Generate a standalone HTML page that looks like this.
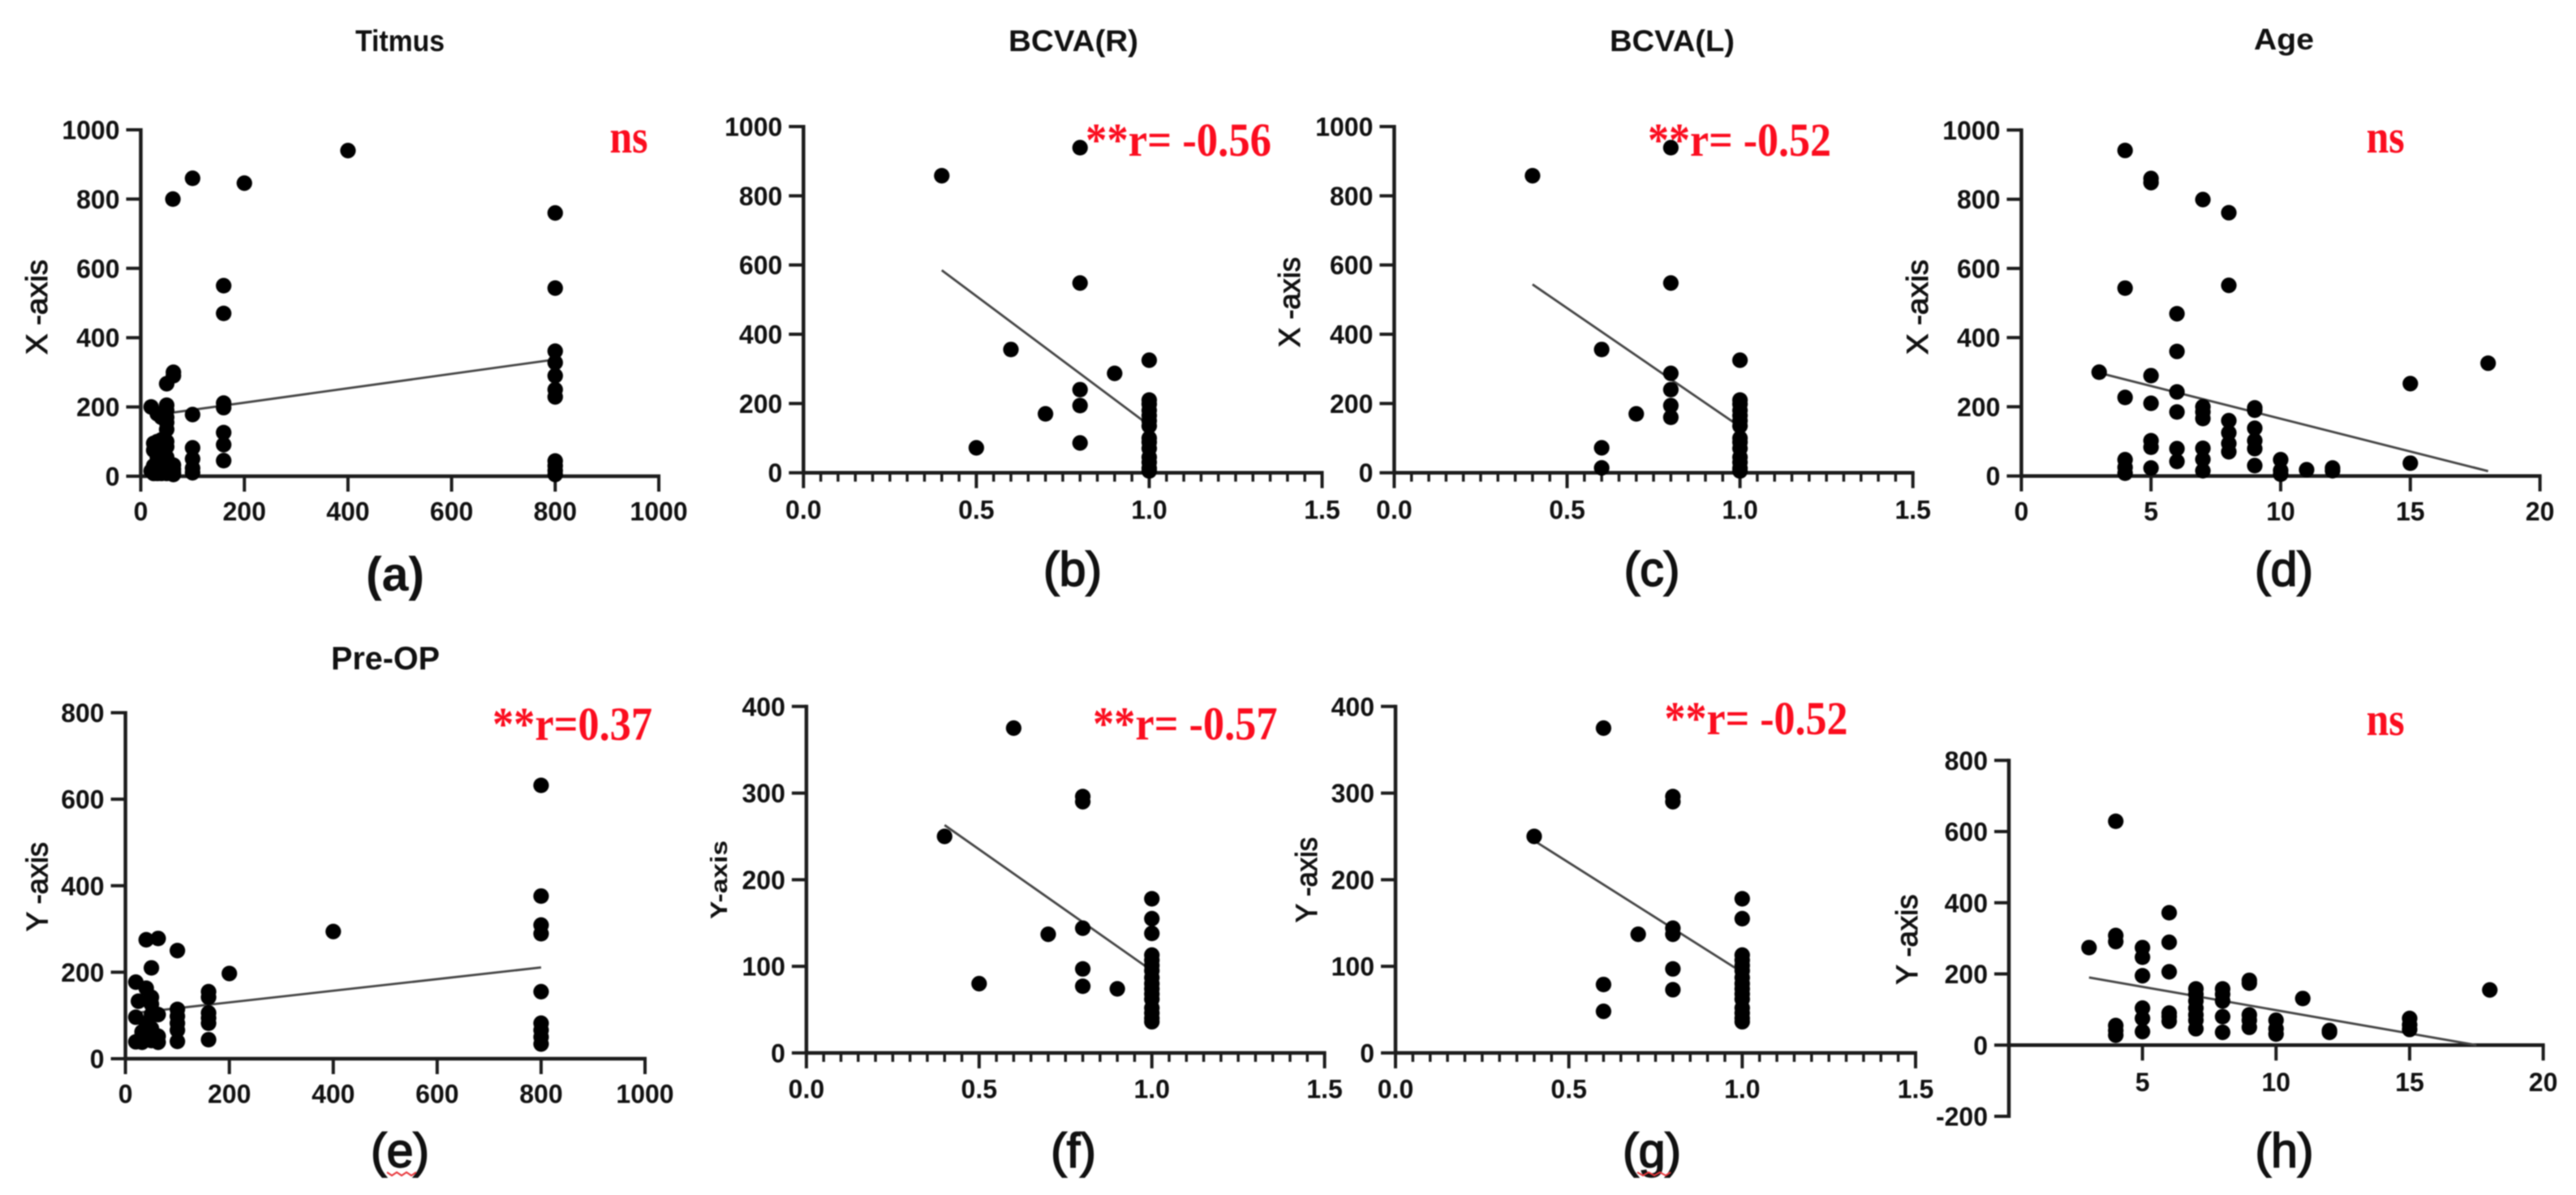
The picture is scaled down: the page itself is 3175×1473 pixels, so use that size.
<!DOCTYPE html>
<html lang="en">
<head>
<meta charset="utf-8">
<title>Correlation scatter panels</title>
<style>
html,body{margin:0;padding:0;background:#fff;width:3175px;height:1473px;overflow:hidden}
svg{display:block;filter:blur(0.9px)}
text{font-family:"Liberation Sans",Arial,sans-serif;fill:#111}
.tick{font-size:32px;font-weight:700}
.title{font-size:37px;font-weight:700}
.axt{font-size:37px;font-weight:400;stroke:#111;stroke-width:1px}
.cap{font-size:59px;font-weight:400;stroke:#111;stroke-width:1.7px}
.sig{font-family:"Liberation Serif","Times New Roman",serif;font-size:58px;font-weight:700;fill:#fb0d1f}
</style>
</head>
<body>
<svg id="fig" xmlns="http://www.w3.org/2000/svg" width="3175" height="1473" viewBox="0 0 3175 1473">
  <rect width="3175" height="1473" fill="#fff"/>

  <text class="title" x="438" y="63" textLength="110" lengthAdjust="spacingAndGlyphs">Titmus</text>
  <text class="title" x="1243" y="63" textLength="160" lengthAdjust="spacingAndGlyphs">BCVA(R)</text>
  <text class="title" x="1984" y="63" textLength="154" lengthAdjust="spacingAndGlyphs">BCVA(L)</text>
  <text class="title" x="2778" y="61" textLength="74" lengthAdjust="spacingAndGlyphs">Age</text>
  <text class="title" x="408" y="825" textLength="134" lengthAdjust="spacingAndGlyphs" style="font-size:40px">Pre-OP</text>

  <text class="sig" x="751.5" y="188" textLength="47" lengthAdjust="spacingAndGlyphs">ns</text>
  <text class="sig" x="1338" y="192" textLength="229" lengthAdjust="spacingAndGlyphs">**r= -0.56</text>
  <text class="sig" x="2031" y="192" textLength="226" lengthAdjust="spacingAndGlyphs">**r= -0.52</text>
  <text class="sig" x="2916.6" y="188" textLength="47" lengthAdjust="spacingAndGlyphs">ns</text>
  <text class="sig" x="607" y="912" textLength="197" lengthAdjust="spacingAndGlyphs">**r=0.37</text>
  <text class="sig" x="1347" y="911.5" textLength="227.5" lengthAdjust="spacingAndGlyphs">**r= -0.57</text>
  <text class="sig" x="2051.5" y="905" textLength="226" lengthAdjust="spacingAndGlyphs">**r= -0.52</text>
  <text class="sig" x="2916.6" y="906" textLength="47" lengthAdjust="spacingAndGlyphs">ns</text>

  <text class="axt" transform="translate(58 378.5) rotate(-90)" text-anchor="middle" textLength="117" lengthAdjust="spacingAndGlyphs">X -axis</text>
  <text class="axt" transform="translate(1602 372.5) rotate(-90)" text-anchor="middle" textLength="111" lengthAdjust="spacingAndGlyphs">X -axis</text>
  <text class="axt" transform="translate(2376 378.5) rotate(-90)" text-anchor="middle" textLength="117" lengthAdjust="spacingAndGlyphs">X -axis</text>
  <text class="axt" transform="translate(58.5 1093) rotate(-90)" text-anchor="middle" textLength="110" lengthAdjust="spacingAndGlyphs">Y -axis</text>
  <text class="axt" transform="translate(896 1084.5) rotate(-90)" text-anchor="middle" textLength="97" lengthAdjust="spacingAndGlyphs" style="font-size:29px;font-weight:700;stroke-width:0">Y-axis</text>
  <text class="axt" transform="translate(1623 1084.5) rotate(-90)" text-anchor="middle" textLength="105" lengthAdjust="spacingAndGlyphs">Y -axis</text>
  <text class="axt" transform="translate(2363 1158) rotate(-90)" text-anchor="middle" textLength="111" lengthAdjust="spacingAndGlyphs">Y -axis</text>

  <text class="cap" x="487" y="728" text-anchor="middle" style="font-weight:700;stroke-width:0">(a)</text>
  <text class="cap" x="1322" y="722" text-anchor="middle">(b)</text>
  <text class="cap" x="2036" y="722" text-anchor="middle">(c)</text>
  <text class="cap" x="2815" y="722" text-anchor="middle">(d)</text>
  <text class="cap" x="493" y="1438.5" text-anchor="middle">(e)</text>
  <text class="cap" x="1323" y="1438.5" text-anchor="middle">(f)</text>
  <text class="cap" x="2036" y="1438.5" text-anchor="middle">(g)</text>
  <text class="cap" x="2815.5" y="1438.5" text-anchor="middle">(h)</text>

  <path d="M477 1445l6 4 6-4 6 4 6-4 6 4 6-4" fill="none" stroke="#e8353a" stroke-width="2"/>
  <path d="M2018 1445l7 4 7-4 7 4 7-4 7 4 6-4" fill="none" stroke="#e8353a" stroke-width="2"/>

  <g id="plots"></g>
</svg>

<script>
// ---- tick labels ----
const titmusXTicks = [0, 200, 400, 600, 800, 1000];
const bcvaXTicks = ['0.0', '0.5', '1.0', '1.5'];
const ageXTicks = [0, 5, 10, 15, 20];
const ageXTicksNoZero = [5, 10, 15, 20];
const xAxisYTicks = [0, 200, 400, 600, 800, 1000];
const preOpYTicks = [0, 200, 400, 600, 800];
const bcvaYTicks = [0, 100, 200, 300, 400];
const ageYTicks = [-200, 0, 200, 400, 600, 800];

// ---- panel (a) Titmus vs X-axis ----
const aX = [62,100,200,400,800,800,160,160,800,800,800,800,800,800,800,800,800,160,160,160,160,160,100,100,100,100,100,63,63,50,20,32,40,50,50,50,50,50,25,32,40,50,25,32,40,50,32,40,50,20,25,32,40,50,63,63,50,40,25,63,50,40,32,63,32];
const aY = [800,860,846,940,760,543,550,470,361,328,290,250,229,44,30,16,5,211,198,126,91,45,178,82,50,23,10,300,290,267,200,180,170,205,190,170,155,135,95,100,105,100,75,75,80,85,55,50,55,15,30,25,20,30,20,5,8,8,8,10,40,35,40,32,8];
const aTrendX = [20, 800];
const aTrendY = [175, 337];

// ---- panel (b) BCVA(R) vs X-axis ----
const bX = [0.4,0.8,0.8,0.6,0.9,1,0.8,0.8,0.7,0.8,0.5,1,1,1,1,1,1,1,1,1,1,1,1,1];
const bY = [858,939,548,356,287,325,240,194,170,86,72,210,198,180,165,150,135,100,88,70,45,30,13,5];
const bTrendX = [0.4, 1.0];
const bTrendY = [585, 137];

// ---- panel (c) BCVA(L) vs X-axis ----
const cX = [0.4,0.8,0.8,0.6,0.6,0.6,0.7,0.8,0.8,0.8,0.8,1,1,1,1,1,1,1,1,1,1,1,1,1,1];
const cY = [858,939,548,356,72,14,170,287,240,194,160,325,210,198,180,165,135,100,88,70,45,30,13,5,150];
const cTrendX = [0.4, 1.0];
const cTrendY = [544, 133];

// ---- panel (d) Age vs X-axis ----
const dX = [4,5,5,7,8,4,8,6,6,3,18,15,5,6,4,5,6,7,7,7,9,9,9,8,8,8,8,9,9,9,5,5,5,6,6,7,7,7,4,4,4,10,10,10,11,12,12,15];
const dY = [941,860,848,799,761,543,551,469,360,300,326,267,290,243,227,210,185,200,185,166,197,190,138,160,125,94,70,102,79,30,102,83,23,79,42,80,48,15,47,25,8,47,16,5,18,23,15,37];
const dTrendX = [3, 18];
const dTrendY = [298, 14];

// ---- panel (e) Titmus vs Y-axis ----
const eX = [800,800,800,800,800,800,800,800,800,400,40,63,100,50,200,20,40,50,50,25,20,63,50,40,50,32,32,20,63,63,40,50,100,100,100,100,100,160,160,160,160,160,160];
const eY = [632,376,309,289,155,82,66,50,34,294,275,278,250,210,197,177,163,142,126,133,96,102,102,82,70,62,38,39,38,52,54,42,114,98,82,66,40,155,142,106,94,82,44];
const eTrendX = [20, 800];
const eTrendY = [106, 211];

// ---- panel (f) BCVA(R) vs Y-axis ----
const fX = [0.6,0.8,0.8,0.4,0.8,0.7,0.8,0.8,0.5,0.9,1,1,1,1,1,1,1,1,1,1,1,1,1,1,1,1];
const fY = [375,296,290,250,144,137,97,77,80,74,178,155,138,113,107,101,95,87,74,68,62,52,46,40,36,80];
const fTrendX = [0.4, 1.0];
const fTrendY = [263, 95];

// ---- panel (g) BCVA(L) vs Y-axis ----
const gX = [0.6,0.8,0.8,0.4,0.6,0.6,0.7,0.8,0.8,0.8,0.8,1,1,1,1,1,1,1,1,1,1,1,1,1,1,1];
const gY = [375,296,290,250,79,48,137,144,137,97,73,178,155,113,107,101,95,87,80,74,68,62,52,46,40,36];
const gTrendX = [0.4, 1.0];
const gTrendY = [245, 93];

// ---- panel (h) Age vs Y-axis ----
const hX = [4,6,6,4,4,3,5,5,5,6,9,9,18,11,7,7,7,7,7,7,7,8,8,8,8,8,5,5,5,6,6,6,4,4,4,9,9,9,10,10,10,12,12,15,15,15];
const hY = [629,372,289,308,291,274,274,247,195,206,174,182,155,131,158,143,124,104,85,70,46,158,143,124,80,36,104,75,38,90,80,67,55,41,28,85,70,50,70,46,31,41,36,75,57,44];
const hTrendX = [3, 17.5];
const hTrendY = [190, 0];

// ---- axis functions ----
function linearScale(d0, d1, p0, p1) {
  return function (v) { return p0 + (Number(v) - d0) * (p1 - p0) / (d1 - d0); };
}

const svgNS = 'http://www.w3.org/2000/svg';
const plotsRoot = document.getElementById('plots');

function segment(parent, name, x1, y1, x2, y2, width, color) {
  const el = document.createElementNS(svgNS, 'line');
  
  
  el.setAttribute('x1', x1);
  el.setAttribute('y1', y1);
  el.setAttribute('x2', x2);
  el.setAttribute('y2', y2);
  el.setAttribute('stroke', color);
  el.setAttribute('stroke-width', width);
  parent.appendChild(el);
}

function tickText(parent, name, x, y, anchor, content) {
  const el = document.createElementNS(svgNS, 'text');
  
  
  el.setAttribute('class', 'tick');
  el.setAttribute('x', x);
  el.setAttribute('y', y);
  el.setAttribute('text-anchor', anchor);
  el.textContent = content;
  parent.appendChild(el);
}

function drawPanel(p) {
  const g = document.createElementNS(svgNS, 'g');
  
  
  plotsRoot.appendChild(g);

  const sx = linearScale(p.xDomain[0], p.xDomain[1], p.xRange[0], p.xRange[1]);
  const sy = linearScale(p.yDomain[0], p.yDomain[1], p.yRange[0], p.yRange[1]);
  const axisColor = '#1c1c1c';
  const xAxisY = sy(0);
  const yAxisX = sx(p.xDomain[0]);
  const tickLen = 18;

  // spines
  segment(g, 'panel-' + p.id + '-y-axis', yAxisX, sy(p.yDomain[1]) - 2, yAxisX, sy(p.yDomain[0]) + (p.yDomain[0] < 0 ? 2 : 0), 4.5, axisColor);
  segment(g, 'panel-' + p.id + '-x-axis', yAxisX, xAxisY, sx(p.xDomain[1]) + 2, xAxisY, 4.5, axisColor);

  // y ticks
  p.yTicks.forEach(function (t) {
    segment(g, 'panel-' + p.id + '-y-tick', yAxisX - tickLen, sy(t), yAxisX, sy(t), 4, axisColor);
    tickText(g, 'panel-' + p.id + '-y-tick-label', yAxisX - 26, sy(t) + 11.5, 'end', String(t));
  });

  // x ticks
  p.xTicks.forEach(function (t) {
    segment(g, 'panel-' + p.id + '-x-tick', sx(t), xAxisY, sx(t), xAxisY + tickLen + 1, 4, axisColor);
    tickText(g, 'panel-' + p.id + '-x-tick-label', sx(t), p.xLabelY + 11.5, 'middle', String(t));
  });

  // minor x ticks
  if (p.minorStep) {
    const n = Math.round((p.xDomain[1] - p.xDomain[0]) / p.minorStep);
    for (let i = 1; i < n; i++) {
      if (i % 10 === 0) continue;
      const v = p.xDomain[0] + i * p.minorStep;
      segment(g, 'panel-' + p.id + '-x-minor-tick', sx(v), xAxisY, sx(v), xAxisY + 11, 3.5, axisColor);
    }
  }

  // trend line
  segment(g, 'panel-' + p.id + '-trend-line', sx(p.trendX[0]), sy(p.trendY[0]), sx(p.trendX[1]), sy(p.trendY[1]), 2.8, '#444');

  // points
  p.xs.forEach(function (xv, i) {
    const c = document.createElementNS(svgNS, 'circle');
    
    
    c.setAttribute('cx', sx(xv));
    c.setAttribute('cy', sy(p.ys[i]));
    c.setAttribute('r', 9.6);
    c.setAttribute('fill', '#000');
    g.appendChild(c);
  });
}

const panels = [
  {id:'a', xs:aX, ys:aY, trendX:aTrendX, trendY:aTrendY, xDomain:[0,1000], yDomain:[0,1000], xRange:[173.5,812], yRange:[587,160], xTicks:titmusXTicks, yTicks:xAxisYTicks, xLabelY:630},
  {id:'b', xs:bX, ys:bY, trendX:bTrendX, trendY:bTrendY, xDomain:[0,1.5], yDomain:[0,1000], xRange:[990.3,1629.5], yRange:[582.7,156], xTicks:bcvaXTicks, yTicks:xAxisYTicks, xLabelY:628, minorStep:0.05},
  {id:'c', xs:cX, ys:cY, trendX:cTrendX, trendY:cTrendY, xDomain:[0,1.5], yDomain:[0,1000], xRange:[1718.4,2357.7], yRange:[582.7,156], xTicks:bcvaXTicks, yTicks:xAxisYTicks, xLabelY:628, minorStep:0.05},
  {id:'d', xs:dX, ys:dY, trendX:dTrendX, trendY:dTrendY, xDomain:[0,20], yDomain:[0,1000], xRange:[2491.4,3130.6], yRange:[586.7,160.3], xTicks:ageXTicks, yTicks:xAxisYTicks, xLabelY:630},
  {id:'e', xs:eX, ys:eY, trendX:eTrendX, trendY:eTrendY, xDomain:[0,1000], yDomain:[0,800], xRange:[154.6,795], yRange:[1305,878.5], xTicks:titmusXTicks, yTicks:preOpYTicks, xLabelY:1348},
  {id:'f', xs:fX, ys:fY, trendX:fTrendX, trendY:fTrendY, xDomain:[0,1.5], yDomain:[0,400], xRange:[993.9,1632.6], yRange:[1297.9,870.8], xTicks:bcvaXTicks, yTicks:bcvaYTicks, xLabelY:1342, minorStep:0.05},
  {id:'g', xs:gX, ys:gY, trendX:gTrendX, trendY:gTrendY, xDomain:[0,1.5], yDomain:[0,400], xRange:[1720,2361], yRange:[1297.9,870.8], xTicks:bcvaXTicks, yTicks:bcvaYTicks, xLabelY:1342, minorStep:0.05},
  {id:'h', xs:hX, ys:hY, trendX:hTrendX, trendY:hTrendY, xDomain:[0,20], yDomain:[-200,800], xRange:[2476,3134.6], yRange:[1376,937.3], xTicks:ageXTicksNoZero, yTicks:ageYTicks, xLabelY:1333.5}
];

panels.forEach(drawPanel);
</script>
</body>
</html>
